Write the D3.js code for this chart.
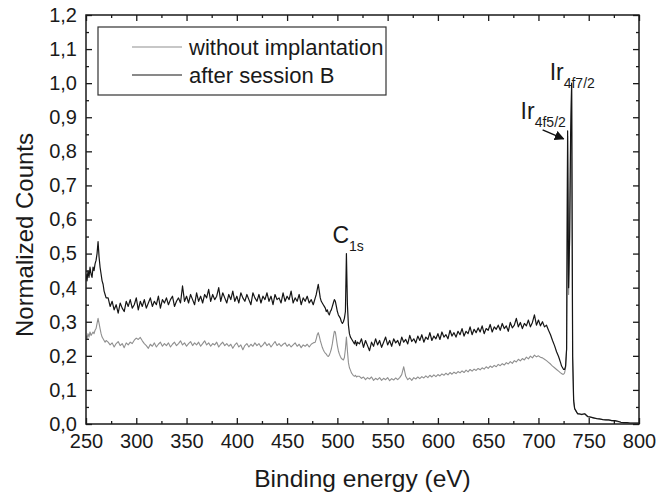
<!DOCTYPE html>
<html>
<head>
<meta charset="utf-8">
<script src="https://cdn.jsdelivr.net/npm/d3@7"></script>
<style>
  body { margin: 0; background: #fff; }
  text { font-family: "Liberation Sans", Arial, sans-serif; fill: #1a1a1a; }
</style>
</head>
<body>
<div id="chart"></div>
<script>
// binding energy grid (eV), finer around the peaks
var energy = [
  250,251,252,253,254,255,256,257,258,259,260,261,262,263,264,265,266,267,268,269,270,
  272,274,276,278,280,282,284,286,288,290,
  292,294,296,298,300,302,304,306,308,310,
  312,314,316,318,320,322,324,326,328,330,
  332,334,336,338,340,342,344,346,348,350,
  352,354,356,358,360,362,364,366,368,370,
  372,374,376,378,380,382,384,386,388,390,
  392,394,396,398,400,402,404,406,408,410,
  412,414,416,418,420,422,424,426,428,430,
  432,434,436,438,440,442,444,446,448,450,
  452,454,456,458,460,462,464,466,468,470,
  472,474,476,
  478,479,480,481,482,483,484,485,486,487,
  488,489,490,491,492,493,494,495,496,497,
  498,499,500,501,502,503,504,505,506,507,
  508,509,510,511,512,513,514,515,516,517,
  518,519,520,
  522,524,526,528,530,532,534,536,538,540,
  542,544,546,548,550,552,554,556,558,560,
  562,564,566,568,570,572,574,576,578,580,
  582,584,586,588,590,592,594,596,598,600,
  602,604,606,608,610,612,614,616,618,620,
  622,624,626,628,630,632,634,636,638,640,
  642,644,646,648,650,652,654,656,658,660,
  662,664,666,668,670,672,674,676,678,680,
  682,684,686,688,690,692,694,696,698,700,
  702,704,706,708,710,712,714,716,718,720,
  722,723,724,725,726,727,728,729,730,731,732,733,734,735,736,737,738,739,740,
  743,746,749,752,755,758,761,764,767,770,773,776,779,782,785,788,791,794,797,800
];

// normalized counts, sample without implantation (grey)
var withoutImpl = [
  0.26,0.25,0.265,0.255,0.27,0.26,0.265,0.27,0.265,0.275,0.28,0.295,0.31,0.295,0.28,0.265,0.255,0.25,0.245,0.24,0.245,
  0.24,0.232,0.238,0.226,0.236,0.242,0.23,0.236,0.224,0.238,
  0.232,0.24,0.236,0.246,0.252,0.248,0.254,0.244,0.236,0.23,
  0.222,0.234,0.228,0.238,0.226,0.234,0.24,0.228,0.236,0.23,
  0.238,0.226,0.234,0.24,0.23,0.236,0.244,0.232,0.238,0.228,
  0.236,0.242,0.23,0.238,0.232,0.24,0.228,0.236,0.244,0.232,
  0.238,0.228,0.236,0.232,0.24,0.226,0.234,0.24,0.23,0.236,
  0.228,0.234,0.222,0.232,0.238,0.226,0.232,0.218,0.23,0.236,
  0.226,0.234,0.228,0.238,0.23,0.236,0.226,0.232,0.24,0.23,
  0.236,0.226,0.234,0.242,0.23,0.236,0.228,0.234,0.238,0.228,
  0.234,0.226,0.232,0.238,0.228,0.234,0.224,0.232,0.228,0.234,
  0.226,0.234,0.238,
  0.24,0.25,0.262,0.268,0.258,0.245,0.235,0.225,0.218,0.212,
  0.208,0.205,0.2,0.198,0.202,0.21,0.22,0.235,0.255,0.272,
  0.27,0.25,0.23,0.215,0.205,0.198,0.192,0.19,0.188,0.195,
  0.22,0.255,0.215,0.18,0.165,0.158,0.15,0.146,0.142,0.14,
  0.143,0.138,0.14,
  0.14,0.134,0.138,0.13,0.136,0.132,0.138,0.128,0.134,0.13,
  0.136,0.128,0.134,0.13,0.136,0.127,0.133,0.129,0.135,0.13,
  0.136,0.145,0.168,0.14,0.13,0.135,0.128,0.136,0.132,0.138,
  0.133,0.139,0.135,0.141,0.136,0.143,0.138,0.144,0.139,0.145,
  0.141,0.147,0.143,0.149,0.144,0.151,0.146,0.152,0.148,0.154,
  0.15,0.156,0.151,0.158,0.153,0.16,0.155,0.161,0.157,0.163,
  0.159,0.165,0.161,0.168,0.163,0.17,0.166,0.172,0.168,0.175,
  0.171,0.177,0.173,0.18,0.176,0.183,0.178,0.186,0.182,0.19,
  0.185,0.192,0.188,0.196,0.191,0.199,0.194,0.202,0.197,0.2,
  0.196,0.194,0.19,0.186,0.181,0.176,0.17,0.165,0.16,0.155,
  0.15,0.148,0.146,0.146,0.15,0.165,0.22,0.845,0.38,0.53,0.84,0.99,0.19,0.065,0.045,0.04,0.034,0.03,0.03,
  0.027,0.03,0.021,0.02,0.017,0.016,0.014,0.013,0.012,0.011,0.01,0.009,0.007,0.005,0.004,0.004,0.003,0.003,0.003,0.003
];

// normalized counts, after session B (black)
var afterSessionB = [
  0.44,0.42,0.45,0.43,0.46,0.44,0.43,0.46,0.45,0.47,0.48,0.50,0.535,0.49,0.46,0.44,0.42,0.41,0.39,0.38,0.37,
  0.37,0.345,0.36,0.335,0.35,0.325,0.355,0.34,0.33,0.36,
  0.345,0.365,0.34,0.35,0.37,0.335,0.36,0.345,0.365,0.34,
  0.355,0.37,0.345,0.36,0.35,0.375,0.34,0.365,0.355,0.37,
  0.35,0.365,0.375,0.345,0.36,0.37,0.355,0.405,0.36,0.375,
  0.355,0.38,0.365,0.35,0.385,0.36,0.375,0.355,0.38,0.37,
  0.395,0.36,0.38,0.365,0.375,0.40,0.36,0.385,0.37,0.355,
  0.38,0.365,0.39,0.36,0.375,0.355,0.385,0.37,0.36,0.38,
  0.365,0.35,0.385,0.37,0.36,0.38,0.355,0.375,0.365,0.385,
  0.36,0.375,0.35,0.38,0.365,0.37,0.355,0.385,0.36,0.375,
  0.365,0.39,0.355,0.37,0.36,0.38,0.35,0.37,0.36,0.375,
  0.355,0.365,0.35,
  0.37,0.38,0.395,0.41,0.39,0.37,0.36,0.355,0.35,0.345,
  0.34,0.33,0.335,0.325,0.32,0.33,0.335,0.345,0.355,0.365,
  0.36,0.345,0.33,0.32,0.315,0.31,0.30,0.295,0.30,0.31,
  0.33,0.50,0.35,0.29,0.265,0.255,0.25,0.245,0.24,0.235,
  0.245,0.23,0.24,
  0.235,0.25,0.225,0.245,0.23,0.215,0.24,0.228,0.25,0.232,
  0.245,0.225,0.24,0.255,0.232,0.245,0.228,0.25,0.238,0.245,
  0.23,0.255,0.24,0.248,0.235,0.26,0.242,0.25,0.238,0.258,
  0.245,0.262,0.24,0.255,0.248,0.268,0.245,0.258,0.25,0.265,
  0.248,0.27,0.255,0.262,0.25,0.275,0.258,0.268,0.255,0.272,
  0.262,0.28,0.258,0.272,0.265,0.285,0.262,0.278,0.268,0.282,
  0.27,0.288,0.265,0.28,0.275,0.292,0.27,0.285,0.278,0.29,
  0.275,0.295,0.28,0.288,0.272,0.298,0.282,0.29,0.31,0.285,
  0.298,0.28,0.295,0.288,0.305,0.285,0.298,0.32,0.29,0.305,
  0.288,0.3,0.285,0.29,0.275,0.262,0.245,0.23,0.212,0.198,
  0.18,0.17,0.165,0.16,0.16,0.17,0.22,0.86,0.40,0.55,0.85,1.00,0.20,0.07,0.045,0.04,0.035,0.03,0.03,
  0.028,0.03,0.022,0.02,0.018,0.016,0.015,0.013,0.012,0.012,0.01,0.01,0.008,0.005,0.004,0.004,0.003,0.003,0.003,0.003
];

var seriesNames = ["without implantation", "after session B"];
var seriesColors = ["#8f8f8f", "#151515"];
var xMajor = [250,300,350,400,450,500,550,600,650,700,750,800];
var xMinor = [275,325,375,425,475,525,575,625,675,725,775];
var yMajor = [0,0.1,0.2,0.3,0.4,0.5,0.6,0.7,0.8,0.9,1.0,1.1,1.2];
var yMinor = [0.05,0.15,0.25,0.35,0.45,0.55,0.65,0.75,0.85,0.95,1.05,1.15];

var W = 658, H = 497;
var plotL = 86, plotR = 639, plotT = 15, plotB = 424;

if (energy.length !== withoutImpl.length || energy.length !== afterSessionB.length)
  console.error("length mismatch", energy.length, withoutImpl.length, afterSessionB.length);

var svg = d3.select("#chart").append("svg")
    .attr("width", W)
    .attr("height", H);

var x = d3.scaleLinear().domain([250, 800]).range([plotL, plotR]);
var y = d3.scaleLinear().domain([0, 1.2]).range([plotB, plotT]);

var commaFmt = function(d) { return d3.format(".1f")(d).replace(".", ","); };

svg.append("clipPath").attr("id", "plotclip")
  .append("rect")
    .attr("x", plotL).attr("y", plotT)
    .attr("width", plotR - plotL).attr("height", plotB - plotT);

// spectra, grey first so the black one sits on top
var line = d3.line()
    .x(function(d) { return x(d[0]); })
    .y(function(d) { return y(d[1]); });

[withoutImpl, afterSessionB].forEach(function(vals, i) {
  svg.append("path")
    .datum(d3.zip(energy, vals))
    .attr("clip-path", "url(#plotclip)")
    .attr("fill", "none")
    .attr("stroke", seriesColors[i])
    .attr("stroke-width", i === 0 ? 1.1 : 1.2)
    .attr("stroke-linejoin", "round")
    .attr("d", line);
});

// axes, ticks pointing inward on all four sides
function styleAxis(g, fontSize) {
  g.select(".domain").remove();
  g.selectAll("line").attr("stroke", "#1a1a1a").attr("stroke-width", 1.3);
  g.selectAll("text").attr("font-size", fontSize).attr("fill", "#1a1a1a")
    .attr("font-family", "Liberation Sans, Arial, sans-serif");
}

svg.append("g").attr("transform", "translate(0," + plotB + ")")
  .call(d3.axisBottom(x).tickValues(xMajor).tickSize(-6).tickPadding(10).tickFormat(d3.format("d")))
  .call(styleAxis, 20);
svg.append("g").attr("transform", "translate(0," + plotB + ")")
  .call(d3.axisBottom(x).tickValues(xMinor).tickSize(-3).tickFormat(""))
  .call(styleAxis, 20);
svg.append("g").attr("transform", "translate(0," + plotT + ")")
  .call(d3.axisTop(x).tickValues(xMajor).tickSize(-6).tickFormat(""))
  .call(styleAxis, 20);
svg.append("g").attr("transform", "translate(0," + plotT + ")")
  .call(d3.axisTop(x).tickValues(xMinor).tickSize(-3).tickFormat(""))
  .call(styleAxis, 20);

svg.append("g").attr("transform", "translate(" + plotL + ",0)")
  .call(d3.axisLeft(y).tickValues(yMajor).tickSize(-6).tickPadding(9).tickFormat(commaFmt))
  .call(styleAxis, 20);
svg.append("g").attr("transform", "translate(" + plotL + ",0)")
  .call(d3.axisLeft(y).tickValues(yMinor).tickSize(-3).tickFormat(""))
  .call(styleAxis, 20);
svg.append("g").attr("transform", "translate(" + plotR + ",0)")
  .call(d3.axisRight(y).tickValues(yMajor).tickSize(-6).tickFormat(""))
  .call(styleAxis, 20);
svg.append("g").attr("transform", "translate(" + plotR + ",0)")
  .call(d3.axisRight(y).tickValues(yMinor).tickSize(-3).tickFormat(""))
  .call(styleAxis, 20);

// frame
svg.append("rect")
    .attr("x", plotL).attr("y", plotT)
    .attr("width", plotR - plotL).attr("height", plotB - plotT)
    .attr("fill", "none")
    .attr("stroke", "#1a1a1a")
    .attr("stroke-width", 1.5);

// axis titles
svg.append("text")
    .attr("x", (plotL + plotR) / 2)
    .attr("y", 487)
    .attr("text-anchor", "middle")
    .attr("font-size", 24.5)
    .text("Binding energy (eV)");

svg.append("text")
    .attr("transform", "translate(33,235) rotate(-90)")
    .attr("text-anchor", "middle")
    .attr("font-size", 24)
    .text("Normalized Counts");

// legend
var legend = svg.append("g");
legend.append("rect")
    .attr("x", 98).attr("y", 27)
    .attr("width", 288).attr("height", 68)
    .attr("fill", "#fff")
    .attr("stroke", "#333")
    .attr("stroke-width", 1.2);
seriesNames.forEach(function(name, i) {
  var ly = 47 + i * 28;
  legend.append("line")
      .attr("x1", 132).attr("x2", 182)
      .attr("y1", ly).attr("y2", ly)
      .attr("stroke", seriesColors[i])
      .attr("stroke-width", 1.2);
  legend.append("text")
      .attr("x", 189).attr("y", ly)
      .attr("dy", "0.35em")
      .attr("font-size", 22)
      .text(name);
});

// peak labels, placed relative to the peaks they name
function peakLabel(main, sub, px, py, dx, dy) {
  var t = svg.append("text")
      .attr("x", x(px) + dx)
      .attr("y", y(py) + dy)
      .attr("font-size", 23);
  t.append("tspan").text(main);
  t.append("tspan").attr("font-size", 14).attr("dy", 8).text(sub);
}
peakLabel("C", "1s", 509, 0.5, -14, -11);
peakLabel("Ir", "4f7/2", 733, 1.0, -22, -3);
peakLabel("Ir", "4f5/2", 729, 0.86, -47, -12);

// arrow pointing to the Ir 4f5/2 peak
svg.append("defs").append("marker")
    .attr("id", "arrowhead")
    .attr("viewBox", "0 0 10 10")
    .attr("refX", 9).attr("refY", 5)
    .attr("markerWidth", 7).attr("markerHeight", 7)
    .attr("orient", "auto")
  .append("path")
    .attr("d", "M0,0L10,5L0,10z")
    .attr("fill", "#111");

svg.append("line")
    .attr("x1", x(729) - 25).attr("y1", y(0.86) - 1)
    .attr("x2", x(729) - 4).attr("y2", y(0.86) + 8)
    .attr("stroke", "#111")
    .attr("stroke-width", 1.4)
    .attr("marker-end", "url(#arrowhead)");
</script>
</body>
</html>
